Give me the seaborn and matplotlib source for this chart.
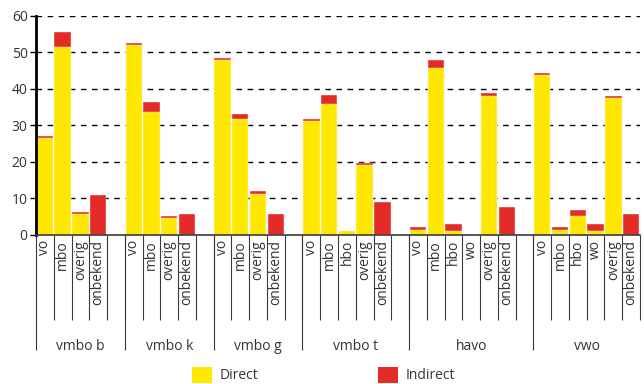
import pandas as pd
import matplotlib.pyplot as plt
import matplotlib.transforms as mtransforms
from matplotlib.patches import Patch
import seaborn as sns

# Data
groups = ['vmbo b', 'vmbo k', 'vmbo g', 'vmbo t', 'havo', 'vwo']
categories = [
    ['vo', 'mbo', 'overig', 'onbekend'],
    ['vo', 'mbo', 'overig', 'onbekend'],
    ['vo', 'mbo', 'overig', 'onbekend'],
    ['vo', 'mbo', 'hbo', 'overig', 'onbekend'],
    ['vo', 'mbo', 'hbo', 'wo', 'overig', 'onbekend'],
    ['vo', 'mbo', 'hbo', 'wo', 'overig', 'onbekend'],
]
direct = [
    [26.5, 51.3, 5.7, 0.0],
    [51.8, 33.7, 4.6, 0.0],
    [47.7, 31.6, 11.3, 0.0],
    [31.1, 35.7, 1.0, 19.2, 0.0],
    [1.5, 45.6, 1.0, 0.0, 37.9, 0.0],
    [43.6, 1.5, 5.1, 1.0, 37.4, 0.0],
]
indirect = [
    [0.6, 4.1, 0.6, 11.0],
    [0.6, 2.6, 0.6, 5.7],
    [0.6, 1.5, 0.6, 5.7],
    [0.6, 2.6, 0.0, 0.6, 8.9],
    [0.6, 2.1, 2.1, 0.0, 1.0, 7.7],
    [0.6, 0.6, 1.6, 2.1, 0.5, 5.7],
]

YELLOW = '#FFE800'
RED = '#E32B27'
TEXT = '#333333'
LINE = '#3a3a3a'

# Build table, one row per bar; an empty slot follows each group
rows = []
order = []
for g, cats, d, ind in zip(groups, categories, direct, indirect):
    for c, dv, iv in zip(cats, d, ind):
        key = f'{g}|{c}'
        rows.append({'slot': key, 'group': g, 'cat': c, 'direct': dv, 'indirect': iv})
        order.append(key)
    if g != groups[-1]:
        order.append(f'{g}|')
df = pd.DataFrame(rows)
df['total'] = df['direct'] + df['indirect']

sns.set_style('white')
plt.rcParams['font.family'] = ['Open Sans', 'DejaVu Sans']

fig = plt.figure(figsize=(6.44, 3.84), dpi=100)
ax = fig.add_axes([36 / 644, 1 - 235 / 384, 604 / 644, 219.5 / 384])

bar_kw = dict(order=order, width=0.92, saturation=1, errorbar=None,
              edgecolor='#fff4f0', linewidth=0.3, ax=ax, zorder=3)
sns.barplot(data=df, x='slot', y='total', color=RED, **bar_kw)
sns.barplot(data=df, x='slot', y='direct', color=YELLOW, **bar_kw)

ax.set_xlim(-0.5, len(order) - 0.5)
ax.set_ylim(0, 60)
ax.set_yticks(range(0, 61, 10))
ax.set_xticks([])
ax.set_xlabel('')
ax.set_ylabel('')
ax.tick_params(axis='y', left=True, length=4, width=1, color='black',
               labelsize=10, labelcolor=TEXT, pad=2)

# dashed grid lines
for yv in range(10, 61, 10):
    ax.axhline(yv, color='black', linestyle=(0, (4, 4)), linewidth=1, zorder=1)

for s in ['top', 'right']:
    ax.spines[s].set_visible(False)
ax.spines['left'].set_linewidth(2)
ax.spines['left'].set_color('black')
ax.spines['bottom'].set_linewidth(1.2)
ax.spines['bottom'].set_color(LINE)
ax.spines['bottom'].set_zorder(5)
ax.spines['left'].set_zorder(5)

# category labels and separator lines under the axis
trans = mtransforms.blended_transform_factory(ax.transData, fig.transFigure)
pos = {k: i for i, k in enumerate(order)}
for key in order:
    i = pos[key]
    cat = key.split('|')[1]
    if cat:
        ax.text(i, 1 - 240 / 384, cat, rotation=90, ha='center', va='top',
                fontsize=10, color=TEXT, transform=trans)

start = 0
for g in groups:
    keys = [k for k in order if k.startswith(g + '|')]
    end = start + len(keys)
    ax.vlines(start - 0.5, 1 - 350 / 384, 1 - 235 / 384, color=LINE,
              linewidth=0.8, transform=trans, clip_on=False)
    for j in range(start + 1, end + 1):
        ax.vlines(j - 0.5, 1 - 320 / 384, 1 - 235 / 384, color=LINE,
                  linewidth=0.8, transform=trans, clip_on=False)
    ax.text((start + end - 1) / 2, 1 - 346 / 384, g, ha='center', va='center',
            fontsize=10, color=TEXT, transform=trans)
    start = end

handles = [Patch(facecolor=YELLOW, edgecolor='none', label='Direct'),
           Patch(facecolor=RED, edgecolor='none', label='Indirect')]
fig.legend(handles=handles, loc='center', bbox_to_anchor=(0.503, 1 - 375 / 384),
           ncol=2, frameon=False, fontsize=10, labelcolor=TEXT,
           handlelength=1.4, handleheight=1.4, handletextpad=0.6,
           columnspacing=8.6)

fig.savefig('out.png', dpi=100)
